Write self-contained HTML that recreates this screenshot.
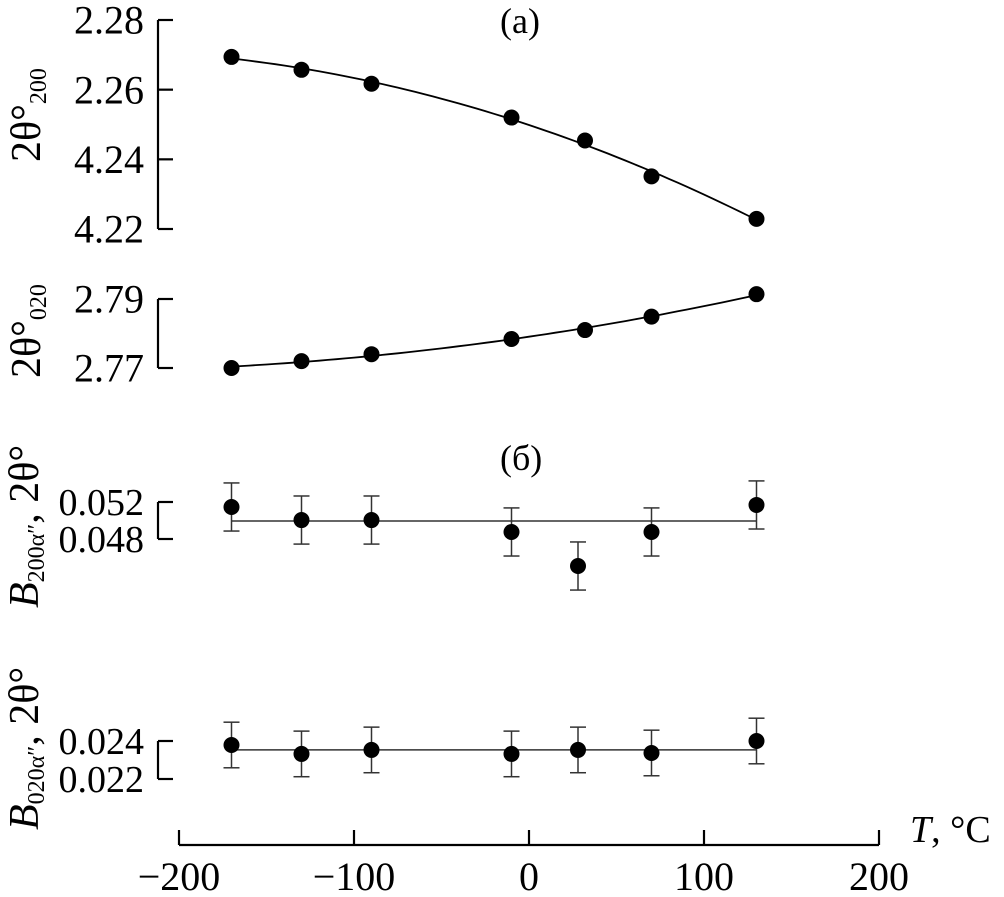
<!DOCTYPE html>
<html><head><meta charset="utf-8"><style>
html,body{margin:0;padding:0;background:#fff}
svg text{font-family:"Liberation Serif",serif;fill:#000}
</style></head><body>
<svg id="c" width="1004" height="892" xmlns="http://www.w3.org/2000/svg"></svg>
<script>
const temps = [-170,-130,-90,-10,32,70,130];
const temps2 = [-170,-130,-90,-10,28,70,130];
const theta200 = [2.2694,2.2657,2.2617,2.2520,2.2454,2.2351,2.2229];
const theta020 = [2.7700,2.7720,2.7740,2.7784,2.7810,2.7849,2.7914];
const b200 = [0.05146,0.05005,0.05005,0.04876,0.04508,0.04876,0.05168];
const b200err = [0.0026,0.0026,0.0026,0.0026,0.0026,0.0026,0.0026];
const b200fit = 0.04995;
const b020 = [0.02379,0.02332,0.02353,0.02332,0.02353,0.02337,0.02400];
const b020err = [0.0012,0.0012,0.0012,0.0012,0.0012,0.0012,0.0012];
const b020fit = 0.02353;
const xTicks = [-200,-100,0,100,200];
const ticksA = [2.28,2.26,2.24,2.22];
const ticksALabels = ["2.28","2.26","4.24","4.22"];
const ticksB = [2.79,2.77];
const ticksC = [0.052,0.048];
const ticksD = [0.024,0.022];

const svg=document.getElementById('c');
const NS='http://www.w3.org/2000/svg';
function el(t,a,p){const e=document.createElementNS(NS,t);for(const k in a)e.setAttribute(k,a[k]);(p||svg).appendChild(e);return e;}
const X=v=>529+v*1.75;
function lin(v0,p0,v1,p1){return v=>p0+(v-v0)*(p1-p0)/(v1-v0);}
const YA=lin(2.28,20,2.22,229), YB=lin(2.79,299,2.77,368), YC=lin(0.052,502,0.048,539), YD=lin(0.024,741,0.022,779);

function bracket(ticks,labels,Y,name,fs){
  const g=el('g',{});
  
  
  const ys=ticks.map(Y);
  el('line',{x1:158,x2:158,y1:Math.min(...ys),y2:Math.max(...ys),stroke:'#000','stroke-width':2.2},g);
  ticks.forEach((t,i)=>{
    el('line',{x1:158,x2:173,y1:Y(t),y2:Y(t),stroke:'#000','stroke-width':2.2},g);
    const tx=el('text',{x:144,y:Y(t)+fs*0.34,'text-anchor':'end','font-size':fs},g);
    tx.textContent=labels[i];
  });
}
bracket(ticksA,ticksALabels,YA,'y-axis-theta200',40);
bracket(ticksB,["2.79","2.77"],YB,'y-axis-theta020',40);
bracket(ticksC,["0.052","0.048"],YC,'y-axis-b200',38);
bracket(ticksD,["0.024","0.022"],YD,'y-axis-b020',38);

// least squares quadratic fit
function quadFit(xs,ys){
  let S=[0,0,0,0,0],T=[0,0,0];
  xs.forEach((x,i)=>{let p=1;for(let k=0;k<5;k++){S[k]+=p;if(k<3)T[k]+=p*ys[i];p*=x;}});
  const M=[[S[0],S[1],S[2],T[0]],[S[1],S[2],S[3],T[1]],[S[2],S[3],S[4],T[2]]];
  for(let i=0;i<3;i++){for(let j=i+1;j<3;j++){const f=M[j][i]/M[i][i];for(let k=i;k<4;k++)M[j][k]-=f*M[i][k];}}
  const c=[0,0,0];
  for(let i=2;i>=0;i--){let s=M[i][3];for(let k=i+1;k<3;k++)s-=M[i][k]*c[k];c[i]=s/M[i][i];}
  return x=>c[0]+c[1]*x+c[2]*x*x;
}
function curve(xs,ys,Y,name){
  const f=quadFit(xs,ys);
  let d='';
  const x0=xs[0],x1=xs[xs.length-1];
  for(let i=0;i<=60;i++){const x=x0+(x1-x0)*i/60;d+=(i?'L':'M')+X(x).toFixed(1)+','+Y(f(x)).toFixed(1);}
  const p=el('path',{d:d,fill:'none',stroke:'#000','stroke-width':1.8});
  
  
}
function points(xs,ys,Y,name,err){
  xs.forEach((x,i)=>{
    if(err){
      const g=el('g',{stroke:'#333','stroke-width':1.5});
      
      
      const y1=Y(ys[i]+err[i]),y2=Y(ys[i]-err[i]);
      el('line',{x1:X(x),x2:X(x),y1:y1,y2:y2},g);
      el('line',{x1:X(x)-8,x2:X(x)+8,y1:y1,y2:y1},g);
      el('line',{x1:X(x)-8,x2:X(x)+8,y1:y2,y2:y2},g);
    }
    const c=el('circle',{cx:X(x),cy:Y(ys[i]),r:8,fill:'#000'});
    
    
  });
}
curve(temps,theta200,YA,'theta200-curve');
points(temps,theta200,YA,'theta200');
curve(temps,theta020,YB,'theta020-curve');
points(temps,theta020,YB,'theta020');

let f=el('line',{x1:X(temps[0]),x2:X(temps[6]),y1:YC(b200fit),y2:YC(b200fit),stroke:'#333','stroke-width':1.5});


points(temps2,b200,YC,'b200',b200err);
f=el('line',{x1:X(temps2[0]),x2:X(temps2[6]),y1:YD(b020fit),y2:YD(b020fit),stroke:'#333','stroke-width':1.5});


points(temps2,b020,YD,'b020',b020err);

const xa=el('g',{});


el('line',{x1:X(-200),x2:X(200),y1:845,y2:845,stroke:'#000','stroke-width':2.2},xa);
xTicks.forEach(t=>{
  el('line',{x1:X(t),x2:X(t),y1:830,y2:845,stroke:'#000','stroke-width':2.2},xa);
  const tx=el('text',{x:X(t),y:890,'text-anchor':'middle','font-size':40},xa);
  tx.textContent=(t<0?'\u2212':'')+Math.abs(t);
});

function txt(s,attrs,name){const t=el('text',attrs);t.innerHTML=s;return t;}
txt('<tspan font-style="italic">T</tspan>, °C',{x:910,y:842,'font-size':38},'x-axis-title');
txt('(a)',{x:500,y:33,'font-size':36},'panel-label-a');
txt('(б)',{x:500,y:470,'font-size':36},'panel-label-b');
txt('2θ°<tspan font-size="24" dy="6">200</tspan>',{x:0,y:0,'font-size':42,transform:'translate(40,162) rotate(-90)'},'y-title-theta200');
txt('2θ°<tspan font-size="24" dy="6">020</tspan>',{x:0,y:0,'font-size':42,transform:'translate(40,378) rotate(-90)'},'y-title-theta020');
txt('<tspan font-style="italic">B</tspan><tspan font-size="24" dy="6">200α″</tspan><tspan dy="-6">, 2θ°</tspan>',{x:0,y:0,'font-size':42,transform:'translate(38,608) rotate(-90)'},'y-title-b200');
txt('<tspan font-style="italic">B</tspan><tspan font-size="24" dy="6">020α″</tspan><tspan dy="-6">, 2θ°</tspan>',{x:0,y:0,'font-size':42,transform:'translate(38,830) rotate(-90)'},'y-title-b020');
</script>
</body></html>
